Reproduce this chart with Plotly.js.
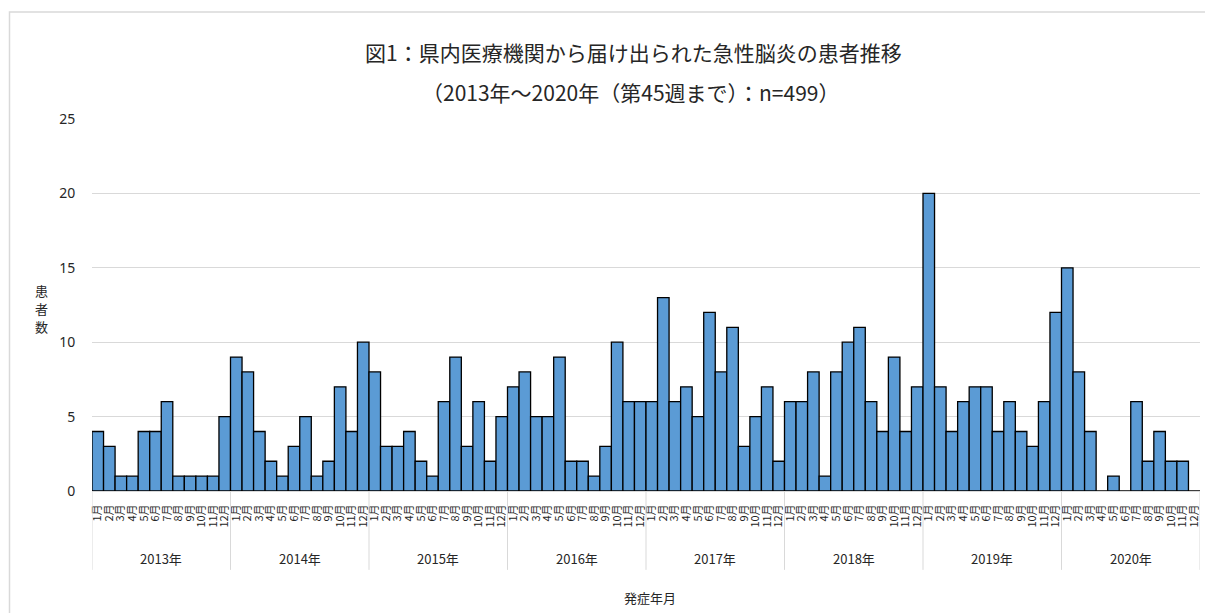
<!DOCTYPE html>
<html>
<head>
<meta charset="utf-8">
<script src="https://cdn.plot.ly/plotly-3.0.1.min.js"></script>
<style>
html,body{margin:0;padding:0;background:#fff;}
#chart{width:1205px;height:613px;}
</style>
</head>
<body>
<div id="chart"></div>
<script>
// ---- data ----
const years = ["2013年","2014年","2015年","2016年","2017年","2018年","2019年","2020年"];
const months = ["1月","2月","3月","4月","5月","6月","7月","8月","9月","10月","11月","12月"];
const counts2013 = [4,3,1,1,4,4,6,1,1,1,1,5];
const counts2014 = [9,8,4,2,1,3,5,1,2,7,4,10];
const counts2015 = [8,3,3,4,2,1,6,9,3,6,2,5];
const counts2016 = [7,8,5,5,9,2,2,1,3,10,6,6];
const counts2017 = [6,13,6,7,5,12,8,11,3,5,7,2];
const counts2018 = [6,6,8,1,8,10,11,6,4,9,4,7];
const counts2019 = [20,7,4,6,7,7,4,6,4,3,6,12];
const counts2020 = [15,8,4,0,1,0,6,2,4,2,2,0];
const yTicks = [0,5,10,15,20,25];
const titleLine1 = "図1：県内医療機関から届け出られた急性脳炎の患者推移";
const titleLine2 = "（2013年～2020年（第45週まで）：n=499）";
const xTitle = "発症年月";
const yTitle = "患者数";

// ---- build ----
const allCounts = [counts2013,counts2014,counts2015,counts2016,counts2017,counts2018,counts2019,counts2020];
const xs = [], ys = [], tickText = [];
allCounts.forEach((arr, yi) => {
  arr.forEach((v, mi) => {
    xs.push(yi * 12 + mi);
    ys.push(v);
    tickText.push(months[mi]);
  });
});
const n = xs.length;

const FONT = "Noto Sans CJK JP, Noto Sans, sans-serif";
const gridCol = "#d9d9d9";
const txtCol = "#262626";

const shapes = [];
for (let i = 0; i <= years.length; i++) {
  shapes.push({type:"line", xref:"x", yref:"paper", x0:i*12-0.5, x1:i*12-0.5, y0:0, y1:-0.212,
    line:{color:gridCol, width:1}});
}
shapes.push({type:"rect", xref:"paper", yref:"paper",
  x0:(9.5-92)/1108, x1:(1215-92)/1108, y0:(491-12)/372, y1:(491-640)/372,
  line:{color:gridCol, width:1.5}, fillcolor:"rgba(0,0,0,0)", layer:"below"});

const annotations = [];
years.forEach((yr, i) => {
  annotations.push({text: yr, xref:"x", yref:"paper", x: i*12 + 5.5, y:(491-558)/372,
    showarrow:false, font:{family:FONT, size:13, color:txtCol}, xanchor:"center", yanchor:"middle"});
});
annotations.push({text: titleLine1, xref:"paper", yref:"paper", x:(633-92)/1108, y:(491-52)/372,
  showarrow:false, font:{family:FONT, size:21, color:txtCol}, xanchor:"center", yanchor:"middle"});
annotations.push({text: titleLine2, xref:"paper", yref:"paper", x:(630-92)/1108, y:(491-92)/372,
  showarrow:false, font:{family:FONT, size:21, color:txtCol}, xanchor:"center", yanchor:"middle"});
annotations.push({text: xTitle, xref:"paper", yref:"paper", x:(650-92)/1108, y:(491-597)/372,
  showarrow:false, font:{family:FONT, size:13, color:txtCol}, xanchor:"center", yanchor:"middle"});
yTitle.split("").forEach((ch, i) => {
  annotations.push({text: ch, xref:"paper", yref:"paper", x:(41-92)/1108, y:(491-(290+i*18))/372,
    showarrow:false, borderpad:0, font:{family:FONT, size:13, color:txtCol}, xanchor:"center", yanchor:"middle"});
});

const trace = {
  type:"bar", x: xs, y: ys,
  marker:{color:"#5b9bd5", line:{color:"#000", width:1.3}},
  hoverinfo:"y"
};

const layout = {
  width:1205, height:613,
  margin:{l:92, r:5, t:119, b:122},
  paper_bgcolor:"rgba(0,0,0,0)", plot_bgcolor:"rgba(0,0,0,0)",
  showlegend:false,
  bargap:0,
  xaxis:{
    range:[-0.5, n-0.5], tickmode:"array", tickvals: xs, ticktext: tickText,
    tickangle:-90, tickfont:{family:FONT, size:11, color:txtCol},
    ticks:"outside", ticklen:8, tickcolor:"rgba(0,0,0,0)",
    showgrid:false, showline:true, linecolor:gridCol, linewidth:1, zeroline:false, fixedrange:true
  },
  yaxis:{
    range:[0,25], tickmode:"array", tickvals:yTicks,
    tickfont:{family:"Noto Sans, sans-serif", size:14, color:txtCol},
    showgrid:true, gridcolor:gridCol, gridwidth:1, zeroline:false, showline:false,
    ticks:"outside", ticklen:13, tickcolor:"rgba(0,0,0,0)", fixedrange:true
  },
  shapes, annotations
};

Plotly.newPlot("chart", [trace], layout, {displayModeBar:false, staticPlot:true});
</script>
</body>
</html>
